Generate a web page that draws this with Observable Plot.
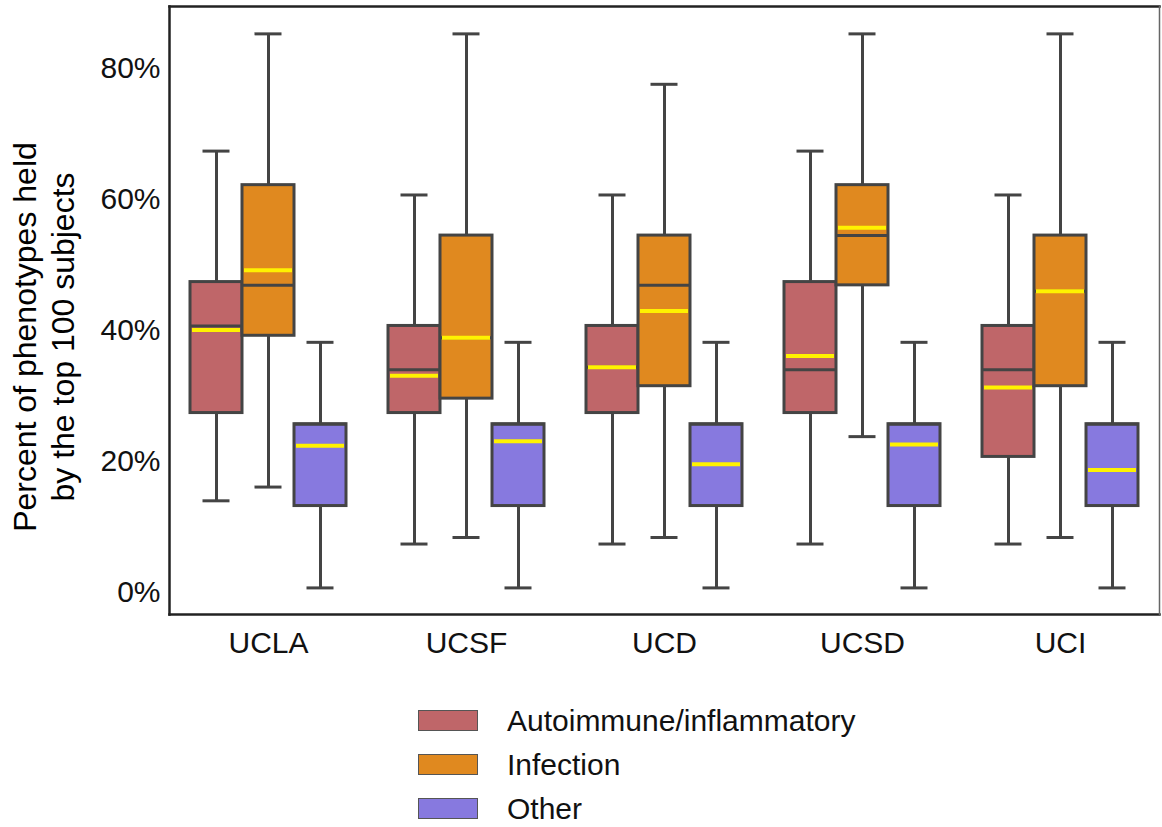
<!DOCTYPE html>
<html>
<head>
<meta charset="utf-8">
<script src="https://cdn.jsdelivr.net/npm/d3@7"></script>
<script src="https://cdn.jsdelivr.net/npm/@observablehq/plot@0.6"></script>
<style>
  html, body { margin: 0; padding: 0; background: #fff; }
  body { width: 1162px; height: 827px; position: relative; overflow: hidden; font-family: "Liberation Sans", Arial, Helvetica, sans-serif; }
  #chart { position: absolute; left: 0; top: 0; }
  #ytitle { position: absolute; left: 44px; top: 337px; transform: translate(-50%, -50%) rotate(-90deg); font-size: 32px; line-height: 38px; text-align: center; white-space: nowrap; color: #000; }
  .legend { position: absolute; left: 418px; top: 710px; }
  .row { position: absolute; left: 0; height: 22px; white-space: nowrap; }
  .sw { position: absolute; left: 0; top: 0; width: 58px; height: 19px; border: 1.5px solid #555; }
  .lab { position: absolute; left: 89px; top: 50%; transform: translateY(-50%); font-size: 30px; color: #111; line-height: 1; }
</style>
</head>
<body>
<div id="chart"></div>
<div id="ytitle">Percent of phenotypes held<br>by the top 100 subjects</div>
<div class="legend" id="legend"></div>
<script>
// ---- data (percent) ----
const sites = ["UCLA", "UCSF", "UCD", "UCSD", "UCI"];
const categories = ["Autoimmune/inflammatory", "Infection", "Other"];
const colors = ["#bf6669", "#e0891f", "#8779df"];
const yTicks = [0, 20, 40, 60, 80];

const autoMin    = [13.3, 6.7, 6.7, 6.7, 6.7];
const autoQ1     = [26.7, 26.7, 26.7, 26.7, 20.0];
const autoMedian = [40.0, 33.3, 33.7, 33.3, 33.3];
const autoQ3     = [46.7, 40.0, 40.0, 46.7, 40.0];
const autoMax    = [66.7, 60.0, 60.0, 66.7, 60.0];
const autoMean   = [39.4, 32.4, 33.7, 35.4, 30.6];

const infMin    = [15.4, 7.7, 7.7, 23.1, 7.7];
const infQ1     = [38.5, 28.9, 30.8, 46.2, 30.8];
const infMedian = [46.2, 38.2, 46.2, 53.8, 45.3];
const infQ3     = [61.5, 53.8, 53.8, 61.5, 53.8];
const infMax    = [84.6, 84.6, 76.9, 84.6, 84.6];
const infMean   = [48.5, 38.2, 42.3, 55.0, 45.3];

const othMin    = [0, 0, 0, 0, 0];
const othQ1     = [12.5, 12.5, 12.5, 12.5, 12.5];
const othMedian = [25.0, 25.0, 25.0, 25.0, 25.0];
const othQ3     = [25.0, 25.0, 25.0, 25.0, 25.0];
const othMax    = [37.5, 37.5, 37.5, 37.5, 37.5];
const othMean   = [21.7, 22.4, 18.9, 21.9, 18.0];

const stats = [
  [autoMin, autoQ1, autoMedian, autoQ3, autoMax, autoMean],
  [infMin, infQ1, infMedian, infQ3, infMax, infMean],
  [othMin, othQ1, othMedian, othQ3, othMax, othMean]
];

const rows = sites.flatMap((site, i) => categories.map((cat, j) => {
  const [mn, q1, md, q3, mx, me] = stats[j];
  return {site, cat, min: mn[i], q1: q1[i], median: md[i], q3: q3[i], max: mx[i], mean: me[i]};
}));

const dark = "#444";

const chart = Plot.plot({
  width: 1162,
  height: 680,
  marginLeft: 167,
  marginRight: 1,
  marginTop: 6,
  marginBottom: 66,
  style: {fontFamily: "'Liberation Sans', Arial, Helvetica, sans-serif", fontSize: "30px", color: "#111", background: "#fff"},
  fx: {domain: sites, paddingInner: 0, paddingOuter: 0},
  x: {domain: categories, paddingInner: 0, paddingOuter: 0.375, axis: null},
  y: {domain: [-4.06, 88.78]},
  color: {domain: categories, range: colors},
  marks: [
    Plot.axisY({ticks: yTicks, tickFormat: d => d + "%", tickSize: 0, tickPadding: 9, label: null, dy: 4, fontSize: 30, fill: "#111"}),
    Plot.axisFx({anchor: "bottom", tickSize: 0, tickPadding: 17, label: null, fontSize: 30, fill: "#111"}),
    Plot.ruleX(rows, {fx: "site", x: "cat", y1: "min", y2: "q1", stroke: dark, strokeWidth: 3}),
    Plot.ruleX(rows, {fx: "site", x: "cat", y1: "q3", y2: "max", stroke: dark, strokeWidth: 3}),
    Plot.barY(rows, {fx: "site", x: "cat", y1: "q1", y2: "q3", fill: "cat", stroke: dark, strokeWidth: 3}),
    Plot.tickY(rows, {fx: "site", x: "cat", y: "median", stroke: dark, strokeWidth: 3}),
    Plot.tickY(rows, {fx: "site", x: "cat", y: "mean", stroke: "#fff200", strokeWidth: 4, insetLeft: 2, insetRight: 2}),
    Plot.tickY(rows, {fx: "site", x: "cat", y: "max", stroke: dark, strokeWidth: 3, insetLeft: 12.5, insetRight: 12.5}),
    Plot.tickY(rows, {fx: "site", x: "cat", y: "min", stroke: dark, strokeWidth: 3, insetLeft: 12.5, insetRight: 12.5}),
    Plot.frame({facet: "super", anchor: "top", stroke: "#222", strokeWidth: 2.5}),
    Plot.frame({facet: "super", anchor: "bottom", stroke: "#222", strokeWidth: 2.5}),
    Plot.frame({facet: "super", anchor: "left", stroke: "#222", strokeWidth: 2.5}),
    Plot.frame({facet: "super", anchor: "right", stroke: "#666", strokeWidth: 1.5})
  ]
});
document.getElementById("chart").appendChild(chart);

// legend
const legend = document.getElementById("legend");
categories.forEach((c, i) => {
  const row = document.createElement("div");
  row.className = "row";
  row.style.top = (i * 44) + "px";
  const sw = document.createElement("div");
  sw.className = "sw";
  sw.style.background = colors[i];
  const lab = document.createElement("div");
  lab.className = "lab";
  lab.textContent = c;
  row.appendChild(sw);
  row.appendChild(lab);
  legend.appendChild(row);
});
</script>
</body>
</html>
